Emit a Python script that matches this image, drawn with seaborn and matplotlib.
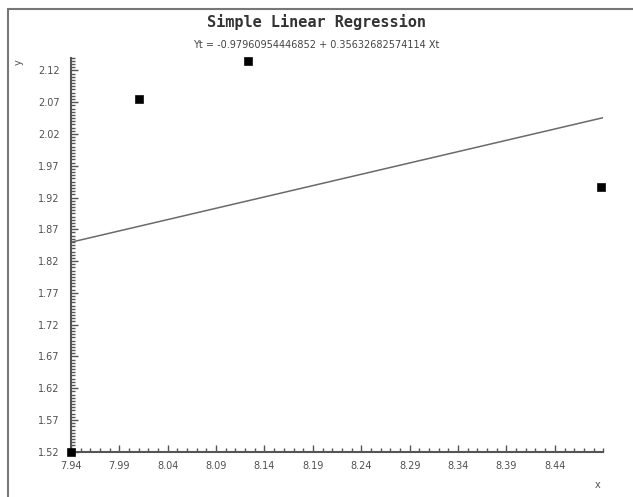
import numpy as np
import pandas as pd
import matplotlib.pyplot as plt
from matplotlib.lines import Line2D
from matplotlib.ticker import MultipleLocator, FixedLocator
import seaborn as sns

# data
x_vals = [7.94, 8.010, 8.123, 8.488]
y_vals = [1.52, 2.075, 2.135, 1.937]
intercept = -0.97960954446852
slope = 0.35632682574114
x_ticks = [7.94, 7.99, 8.04, 8.09, 8.14, 8.19, 8.24, 8.29, 8.34, 8.39, 8.44]
y_ticks = [1.52, 1.57, 1.62, 1.67, 1.72, 1.77, 1.82, 1.87, 1.92, 1.97, 2.02, 2.07, 2.12]

sns.set_style("white")
plt.rcParams['font.family'] = ['DejaVu Sans', 'DejaVu Sans Mono']

df = pd.DataFrame({"x": x_vals, "y": y_vals})
x_min, x_max = 7.94, 8.49
fit = pd.DataFrame({"x": [x_min, x_max]})
fit["y"] = intercept + slope * fit["x"]

fig = plt.figure(figsize=(6.33, 4.97), dpi=100)
ax = fig.add_axes([0.112, 0.091, 0.841, 0.793])

sns.lineplot(data=fit, x="x", y="y", color="#6a6a6a", linewidth=1.1, ax=ax)
sns.scatterplot(data=df, x="x", y="y", marker="s", s=34, color="black",
                edgecolor="black", clip_on=False, zorder=5, ax=ax)

ax.set_xlim(x_min, x_max)
ax.set_ylim(1.52, 2.14)
ax.xaxis.set_major_locator(FixedLocator(x_ticks))
ax.yaxis.set_major_locator(FixedLocator(y_ticks))
ax.set_xticklabels([f"{v:.2f}" for v in x_ticks])
ax.set_yticklabels([f"{v:.2f}" for v in y_ticks])
ax.xaxis.set_minor_locator(MultipleLocator(0.01))
ax.yaxis.set_minor_locator(MultipleLocator(0.005))

ax.tick_params(axis='both', which='major', direction='in', length=5, width=1,
               color='#555555', labelsize=7, labelcolor='#505050')
ax.tick_params(axis='x', which='major', pad=7)
ax.tick_params(axis='y', which='major', pad=8)
ax.tick_params(axis='both', which='minor', direction='in', length=3, width=1,
               color='#555555')
ax.tick_params(axis='x', which='both', bottom=True)
ax.tick_params(axis='y', which='both', left=True)

sns.despine(ax=ax)
for side in ['left', 'bottom']:
    ax.spines[side].set_color('#555555')
    ax.spines[side].set_linewidth(1.5)

ax.set_xlabel("")
ax.set_ylabel("")
fig.text(0.944, 0.024, "x", fontsize=7, color='#505050', ha='center', va='center')
fig.text(0.03, 0.876, "y", fontsize=7, color='#505050', ha='center', va='center', rotation=90)

fig.text(0.5, 0.955, "Simple Linear Regression", fontsize=11, fontweight='bold',
         family='DejaVu Sans Mono', color='#333333', ha='center', va='center')
fig.text(0.5, 0.91, f"Yt = {intercept} + {slope} Xt", fontsize=7,
         color='#444444', ha='center', va='center')

# window-style border on the left and top
fig.add_artist(Line2D([0.012, 0.012], [0.0, 0.982], transform=fig.transFigure,
                      color='#777777', linewidth=1.5))
fig.add_artist(Line2D([0.012, 1.0], [0.982, 0.982], transform=fig.transFigure,
                      color='#777777', linewidth=1.5))

fig.savefig("out.png", dpi=100)
